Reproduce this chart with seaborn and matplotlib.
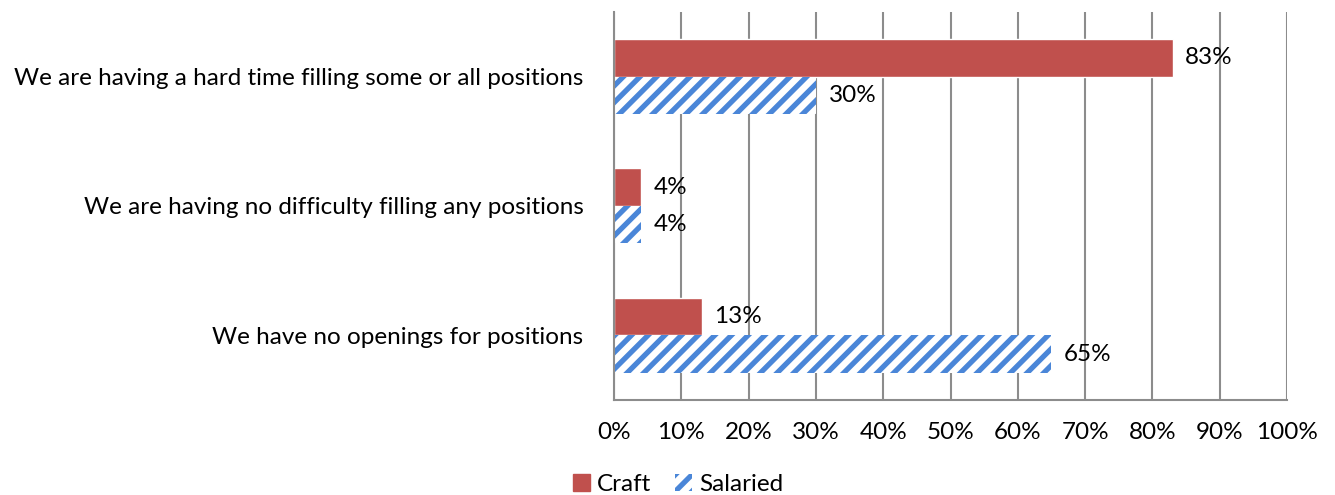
import matplotlib
matplotlib.use('Agg')
import matplotlib.pyplot as plt
import matplotlib.patches as mpatches
import seaborn as sns
import pandas as pd

categories = ['We are having a hard time filling some or all positions',
              'We are having no difficulty filling any positions',
              'We have no openings for positions']
craft = [83, 4, 13]
salaried = [30, 4, 65]
series = ['Craft', 'Salaried']
xticks = list(range(0, 101, 10))

sns.set_style('white')
plt.rcParams['font.family'] = ['Lato', 'DejaVu Sans']
plt.rcParams['hatch.linewidth'] = 3.8
plt.rcParams['text.color'] = 'black'
plt.rcParams['xtick.color'] = 'black'
plt.rcParams['ytick.color'] = 'black'

df = pd.DataFrame({
    'category': categories * 2,
    'value': craft + salaried,
    'series': [series[0]] * 3 + [series[1]] * 3,
})

red = '#c0504d'
blue = '#4a86d8'
grey = '#8c8c8c'
fs = 17.5

fig = plt.figure(figsize=(13.35, 4.95), dpi=100)
ax = fig.add_axes([0.46, 0.192, 0.504, 0.784])

sns.barplot(data=df, x='value', y='category', hue='series', order=categories,
            hue_order=series, palette=[red, blue], width=0.58, orient='h',
            saturation=1, ax=ax, legend=False, errorbar=None)

# salaried bars: white with blue diagonal stripes
for patch in ax.containers[1]:
    patch.set_facecolor('white')
    patch.set_edgecolor(blue)
    patch.set_linewidth(0)
    patch.set_hatch('//')

for cont in ax.containers:
    ax.bar_label(cont, labels=[f'{v:.0f}%' for v in cont.datavalues],
                 padding=9, fontsize=fs, color='black')

ax.set_xlim(0, 100)
ax.set_ylim(2.5, -0.5)
ax.set_xticks(xticks)
ax.set_xticklabels([f'{t}%' for t in xticks], fontsize=fs)
ax.tick_params(axis='x', direction='out', length=8, width=1.5, color=grey,
               pad=8, labelcolor='black')
ax.tick_params(axis='y', which='major', length=0, pad=22, labelsize=fs,
               labelcolor='black')
ax.set_yticks([-0.5, 0.5, 1.5, 2.5], minor=True)
ax.tick_params(axis='y', which='minor', direction='out', length=8, width=1.5, color=grey)
ax.set_xlabel('')
ax.set_ylabel('')

ax.xaxis.grid(True, color=grey, linewidth=1.5)
ax.yaxis.grid(False)
ax.set_axisbelow(True)
for side in ['top', 'right']:
    ax.spines[side].set_visible(False)
for side in ['left', 'bottom']:
    ax.spines[side].set_color(grey)
    ax.spines[side].set_linewidth(1.5)

handles = [mpatches.Patch(facecolor=red, edgecolor=red, label='Craft'),
           mpatches.Patch(facecolor='white', edgecolor=blue, linewidth=0,
                          hatch='//', label='Salaried')]
fig.legend(handles=handles, loc='lower center', bbox_to_anchor=(0.508, -0.045),
           ncol=2, frameon=False, fontsize=fs, handlelength=0.7,
           handleheight=0.7, handletextpad=0.3, columnspacing=1.0)

plt.savefig('out.png', dpi=100)
